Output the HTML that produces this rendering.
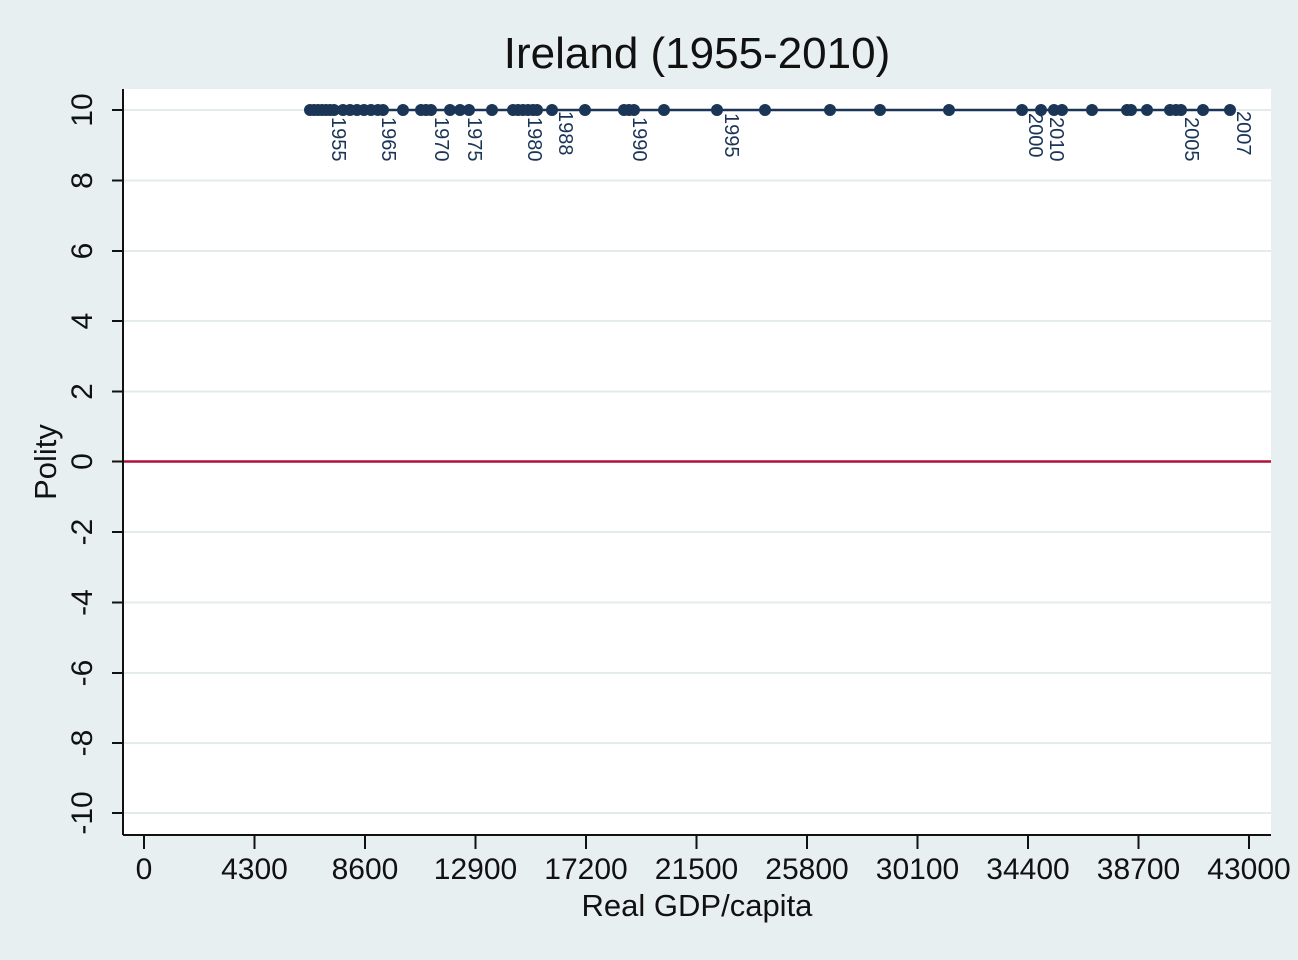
<!DOCTYPE html>
<html><head><style>body{margin:0;background:#e8eff1;}svg{display:block}</style></head><body>
<svg width="1298" height="960" xmlns="http://www.w3.org/2000/svg" font-family="Liberation Sans, Arial, sans-serif">
<rect width="1298" height="960" fill="#e8eff1"/>
<rect x="123" y="89" width="1148" height="746" fill="#fff"/>
<g stroke="#e4ebed" stroke-width="2">
<line x1="123" x2="1271" y1="110" y2="110"/><line x1="123" x2="1271" y1="180.5" y2="180.5"/><line x1="123" x2="1271" y1="251" y2="251"/><line x1="123" x2="1271" y1="321" y2="321"/><line x1="123" x2="1271" y1="391.5" y2="391.5"/><line x1="123" x2="1271" y1="532" y2="532"/><line x1="123" x2="1271" y1="602.5" y2="602.5"/><line x1="123" x2="1271" y1="673" y2="673"/><line x1="123" x2="1271" y1="743" y2="743"/><line x1="123" x2="1271" y1="813" y2="813"/>
</g>
<line x1="123" x2="1271" y1="461.5" y2="461.5" stroke="#b0103a" stroke-width="2.5"/>
<g stroke="#111" stroke-width="2">
<line x1="123" y1="89" x2="123" y2="835"/><line x1="123" y1="835" x2="1271" y2="835"/>
<line x1="112" x2="123" y1="110" y2="110"/><line x1="112" x2="123" y1="180.5" y2="180.5"/><line x1="112" x2="123" y1="251" y2="251"/><line x1="112" x2="123" y1="321" y2="321"/><line x1="112" x2="123" y1="391.5" y2="391.5"/><line x1="112" x2="123" y1="461.5" y2="461.5"/><line x1="112" x2="123" y1="532" y2="532"/><line x1="112" x2="123" y1="602.5" y2="602.5"/><line x1="112" x2="123" y1="673" y2="673"/><line x1="112" x2="123" y1="743" y2="743"/><line x1="112" x2="123" y1="813" y2="813"/>
<line x1="144" x2="144" y1="835" y2="849"/><line x1="254.5" x2="254.5" y1="835" y2="849"/><line x1="365" x2="365" y1="835" y2="849"/><line x1="475.5" x2="475.5" y1="835" y2="849"/><line x1="586" x2="586" y1="835" y2="849"/><line x1="696.5" x2="696.5" y1="835" y2="849"/><line x1="807" x2="807" y1="835" y2="849"/><line x1="917.5" x2="917.5" y1="835" y2="849"/><line x1="1028" x2="1028" y1="835" y2="849"/><line x1="1138.5" x2="1138.5" y1="835" y2="849"/><line x1="1249" x2="1249" y1="835" y2="849"/>
</g>
<g font-size="30" fill="#111" text-anchor="middle">
<text x="144" y="879">0</text><text x="254.5" y="879">4300</text><text x="365" y="879">8600</text><text x="475.5" y="879">12900</text><text x="586" y="879">17200</text><text x="696.5" y="879">21500</text><text x="807" y="879">25800</text><text x="917.5" y="879">30100</text><text x="1028" y="879">34400</text><text x="1138.5" y="879">38700</text><text x="1249" y="879">43000</text>
<text x="697" y="916" font-size="31">Real GDP/capita</text>
<text x="697" y="68" font-size="44">Ireland (1955-2010)</text>
</g>
<g font-size="30" fill="#111" text-anchor="middle">
<text transform="translate(92,110) rotate(-90)">10</text><text transform="translate(92,180.5) rotate(-90)">8</text><text transform="translate(92,251) rotate(-90)">6</text><text transform="translate(92,321) rotate(-90)">4</text><text transform="translate(92,391.5) rotate(-90)">2</text><text transform="translate(92,461.5) rotate(-90)">0</text><text transform="translate(92,532) rotate(-90)">-2</text><text transform="translate(92,602.5) rotate(-90)">-4</text><text transform="translate(92,673) rotate(-90)">-6</text><text transform="translate(92,743) rotate(-90)">-8</text><text transform="translate(92,813) rotate(-90)">-10</text>
<text transform="translate(56,462) rotate(-90)" font-size="31">Polity</text>
</g>
<line x1="310" x2="1230" y1="110" y2="110" stroke="#1a3556" stroke-width="2.5"/>
<g fill="#1a3556">
<circle cx="310" cy="110" r="6"/><circle cx="314" cy="110" r="6"/><circle cx="318" cy="110" r="6"/><circle cx="322" cy="110" r="6"/><circle cx="326" cy="110" r="6"/><circle cx="330" cy="110" r="6"/><circle cx="334" cy="110" r="6"/><circle cx="343" cy="110" r="6"/><circle cx="350" cy="110" r="6"/><circle cx="357" cy="110" r="6"/><circle cx="364" cy="110" r="6"/><circle cx="371" cy="110" r="6"/><circle cx="378" cy="110" r="6"/><circle cx="383" cy="110" r="6"/><circle cx="403" cy="110" r="6"/><circle cx="421" cy="110" r="6"/><circle cx="426" cy="110" r="6"/><circle cx="431" cy="110" r="6"/><circle cx="450" cy="110" r="6"/><circle cx="460" cy="110" r="6"/><circle cx="469" cy="110" r="6"/><circle cx="492" cy="110" r="6"/><circle cx="513" cy="110" r="6"/><circle cx="518" cy="110" r="6"/><circle cx="523" cy="110" r="6"/><circle cx="528" cy="110" r="6"/><circle cx="533" cy="110" r="6"/><circle cx="537" cy="110" r="6"/><circle cx="552" cy="110" r="6"/><circle cx="585" cy="110" r="6"/><circle cx="624" cy="110" r="6"/><circle cx="629" cy="110" r="6"/><circle cx="634" cy="110" r="6"/><circle cx="664" cy="110" r="6"/><circle cx="717" cy="110" r="6"/><circle cx="765" cy="110" r="6"/><circle cx="830" cy="110" r="6"/><circle cx="880" cy="110" r="6"/><circle cx="949" cy="110" r="6"/><circle cx="1022" cy="110" r="6"/><circle cx="1041" cy="110" r="6"/><circle cx="1054" cy="110" r="6"/><circle cx="1062" cy="110" r="6"/><circle cx="1092" cy="110" r="6"/><circle cx="1127" cy="110" r="6"/><circle cx="1131" cy="110" r="6"/><circle cx="1147" cy="110" r="6"/><circle cx="1170" cy="110" r="6"/><circle cx="1176" cy="110" r="6"/><circle cx="1181" cy="110" r="6"/><circle cx="1203" cy="110" r="6"/><circle cx="1230" cy="110" r="6"/>
</g>
<g font-size="20" fill="#1a3556">
<text transform="translate(332,117) rotate(90)">1955</text>
<text transform="translate(382,117) rotate(90)">1965</text>
<text transform="translate(435,117) rotate(90)">1970</text>
<text transform="translate(468,117) rotate(90)">1975</text>
<text transform="translate(528,117) rotate(90)">1980</text>
<text transform="translate(559,111) rotate(90)">1988</text>
<text transform="translate(633,117) rotate(90)">1990</text>
<text transform="translate(725,113) rotate(90)">1995</text>
<text transform="translate(1029,113) rotate(90)">2000</text>
<text transform="translate(1050,117) rotate(90)">2010</text>
<text transform="translate(1185,117) rotate(90)">2005</text>
<text transform="translate(1237,111) rotate(90)">2007</text>
</g>
</svg>
</body></html>
